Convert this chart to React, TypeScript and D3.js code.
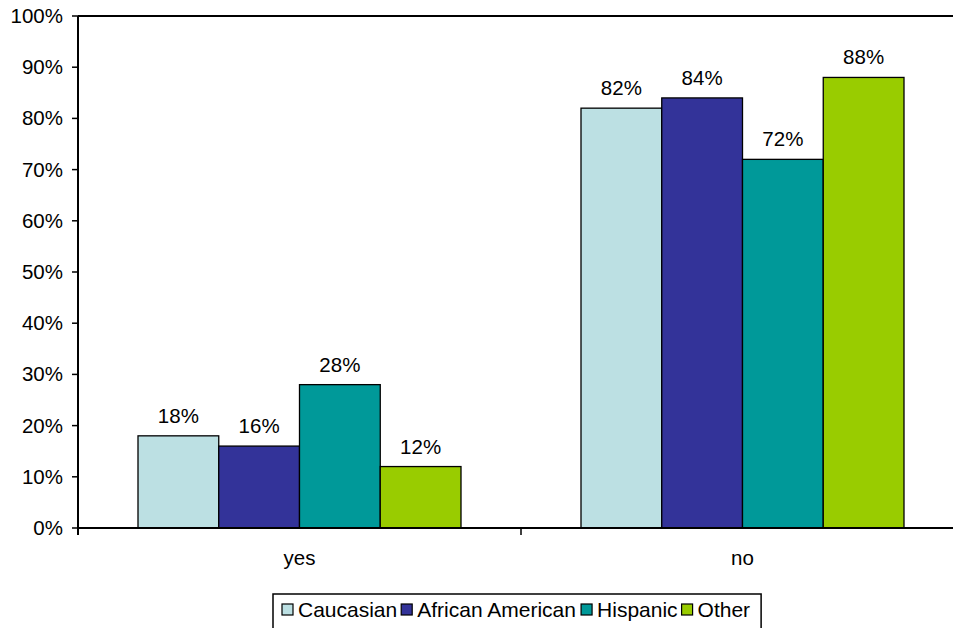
import React from "react";
import * as d3 from "d3";

const categories = ["yes", "no"];
const seriesNames = ["Caucasian", "African American", "Hispanic", "Other"];
const seriesColors = ["#BCE0E3", "#333399", "#009999", "#99CC00"];
const values: number[][] = [
  [18, 82],
  [16, 84],
  [28, 72],
  [12, 88],
];
const yTicks = [0, 10, 20, 30, 40, 50, 60, 70, 80, 90, 100];

// Arial / Liberation Sans advance widths (em) for legend layout
const charW: Record<string, number> = {
  C: 0.722, a: 0.556, u: 0.556, c: 0.5, s: 0.5, i: 0.222, n: 0.556, A: 0.667, f: 0.278,
  r: 0.333, " ": 0.278, m: 0.833, e: 0.556, H: 0.722, p: 0.556, O: 0.778, t: 0.278, h: 0.556,
};
const textW = (s: string, f: number) => s.split("").reduce((acc, ch) => acc + (charW[ch] ?? 0.556), 0) * f;

export default function App() {
  const W = 953, H = 628;
  const left = 78, top = 16, bottom = 528;
  const catW = 443;
  const x0 = d3.scaleBand().domain(categories).range([left, left + catW * 2]).paddingInner(0).paddingOuter(0);
  const y = d3.scaleLinear().domain([0, 100]).range([bottom, top]);
  const groupPad = 60;
  const x1 = d3.scaleBand().domain(seriesNames).range([groupPad, catW - groupPad]);
  const font = "Arial, 'Liberation Sans', Helvetica, sans-serif";
  const fs = 20.5;
  const lfs = 21;

  const legendX = 273;
  let cur = legendX + 9;
  const legendItems = seriesNames.map((name) => {
    const sq = cur;
    const tx = sq + 16;
    cur = tx + textW(name, lfs) + 4;
    return { name, sq, tx };
  });
  const legendW = cur + 7 - legendX;

  return (
    <svg width={W} height={H} style={{ position: "absolute", left: 0, top: 0, background: "#fff" }} fontFamily={font}>
      <line x1={left} x2={W} y1={top} y2={top} stroke="#000" strokeWidth={2} />
      {values.map((vals, si) =>
        categories.map((c, ci) => {
          const bx = (x0(c) as number) + (x1(seriesNames[si]) as number);
          const bw = x1.bandwidth();
          const v = vals[ci];
          return (
            <g key={si + "-" + ci}>
              <rect x={bx} y={y(v)} width={bw} height={bottom - y(v)} fill={seriesColors[si]} stroke="#000" strokeWidth={1.3} />
              <text x={bx + bw / 2} y={y(v) - 13} textAnchor="middle" fontSize={fs} fill="#000">{v + "%"}</text>
            </g>
          );
        })
      )}
      <line x1={left} x2={left} y1={top} y2={bottom + 7} stroke="#000" strokeWidth={2} />
      {yTicks.map((t) => (
        <g key={t}>
          <line x1={left - 6} x2={left} y1={y(t)} y2={y(t)} stroke="#000" strokeWidth={1.5} />
          <text x={63} y={y(t) + 7} textAnchor="end" fontSize={fs} fill="#000">{t + "%"}</text>
        </g>
      ))}
      <line x1={left} x2={W} y1={bottom} y2={bottom} stroke="#000" strokeWidth={2} />
      {categories.map((c) => (
        <g key={c}>
          <line x1={(x0(c) as number) + catW} x2={(x0(c) as number) + catW} y1={bottom} y2={bottom + 7} stroke="#000" strokeWidth={1.5} />
          <text x={(x0(c) as number) + catW / 2} y={bottom + 37} textAnchor="middle" fontSize={fs} fill="#000">{c}</text>
        </g>
      ))}
      <rect x={legendX} y={594} width={legendW} height={60} fill="#fff" stroke="#000" strokeWidth={1.5} />
      {legendItems.map((it, i) => (
        <g key={it.name}>
          <rect x={it.sq} y={604} width={11} height={11} fill={seriesColors[i]} stroke="#000" strokeWidth={1.2} />
          <text x={it.tx} y={617} fontSize={lfs} fill="#000">{it.name}</text>
        </g>
      ))}
    </svg>
  );
}
